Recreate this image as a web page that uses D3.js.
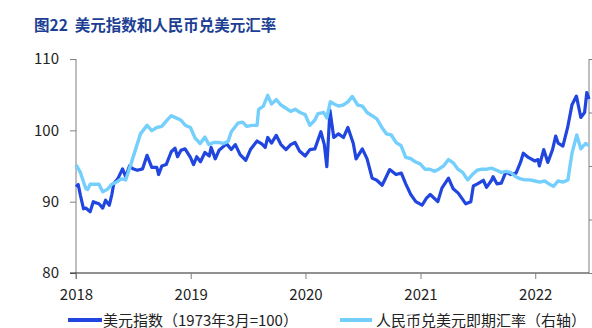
<!DOCTYPE html>
<html><head><meta charset="utf-8">
<script src="https://cdn.jsdelivr.net/npm/d3@7/dist/d3.min.js"></script>
<style>
html,body{margin:0;padding:0;background:#fff;overflow:hidden;}
svg{display:block;}
text{font-family:"Noto Sans CJK SC","Noto Sans",sans-serif;}
</style></head>
<body>
<svg id="c" width="592" height="328"></svg>
<script>
// ---------- DATA ----------
const titleText = "图22  美元指数和人民币兑美元汇率";
const seriesNames = ["美元指数（1973年3月=100）", "人民币兑美元即期汇率（右轴）"];
const xTickYears = [2018, 2019, 2020, 2021, 2022];
const leftTicks = [80, 90, 100, 110];
const rightTicks = [5.5, 6.0, 6.5, 7.0, 7.5];

// 美元指数
const dxyDates = [
"2018-01-01","2018-01-08","2018-01-15","2018-01-25","2018-02-01","2018-02-15","2018-02-25","2018-03-01","2018-03-15","2018-03-27",
"2018-04-05","2018-04-17","2018-04-25","2018-05-01","2018-05-15","2018-05-29","2018-06-08","2018-06-20","2018-07-01","2018-07-15",
"2018-08-01","2018-08-15","2018-08-30","2018-09-15","2018-09-21","2018-10-01","2018-10-15","2018-10-31","2018-11-12","2018-11-20",
"2018-12-01","2018-12-14","2018-12-31",
"2019-01-10","2019-01-20","2019-02-01","2019-02-15","2019-03-01","2019-03-07","2019-03-20","2019-04-01","2019-04-25","2019-05-10",
"2019-05-23","2019-06-07","2019-06-25","2019-07-10","2019-07-31","2019-08-15","2019-08-26","2019-09-03","2019-09-15","2019-09-30",
"2019-10-15","2019-10-31","2019-11-15","2019-11-29","2019-12-13","2019-12-31",
"2020-01-15","2020-01-31","2020-02-19","2020-03-01","2020-03-09","2020-03-19","2020-03-31","2020-04-15","2020-05-01","2020-05-15",
"2020-06-01","2020-06-10","2020-06-30","2020-07-15","2020-07-31","2020-08-15","2020-09-01","2020-09-25","2020-10-15","2020-11-01",
"2020-11-15","2020-12-01","2020-12-17",
"2021-01-06","2021-01-20","2021-02-01","2021-02-25","2021-03-10","2021-03-31","2021-04-15","2021-05-01","2021-05-25","2021-06-10",
"2021-06-18","2021-07-01","2021-07-20","2021-07-30","2021-08-15","2021-08-20","2021-09-01","2021-09-15","2021-09-30","2021-10-15",
"2021-11-01","2021-11-15","2021-11-24","2021-12-10","2021-12-31",
"2022-01-10","2022-01-14","2022-01-28","2022-02-10","2022-02-25","2022-03-07","2022-03-15","2022-03-30","2022-04-14","2022-04-28",
"2022-05-12","2022-05-26","2022-06-07","2022-06-14","2022-06-21"];
const dxyValues = [
92.1,92.4,90.9,89.0,89.1,88.6,90.0,89.9,89.7,89.1,
90.2,89.5,91.0,92.5,93.3,94.6,93.5,95.0,94.6,94.4,
94.6,96.5,94.8,94.8,93.8,95.0,95.2,97.0,97.5,96.3,
97.2,97.4,96.2,
95.2,96.3,95.6,96.9,96.4,97.6,96.0,97.2,98.1,97.3,
98.0,96.6,95.8,97.3,98.5,98.1,97.6,99.0,98.2,99.3,
98.0,97.3,98.0,98.3,97.1,96.4,
97.3,97.4,99.8,98.0,94.9,102.8,99.0,99.5,99.0,100.4,
98.2,96.0,97.4,96.0,93.3,93.0,92.3,94.5,93.8,94.0,
92.5,91.0,90.0,
89.5,90.5,91.0,90.0,91.9,93.3,91.8,91.2,89.7,90.0,
92.2,92.5,93.0,92.0,93.0,93.5,92.5,92.6,94.2,93.8,
94.0,95.5,96.8,96.2,95.7,
95.9,95.0,97.3,95.5,97.3,99.2,98.2,97.8,100.4,103.6,
104.8,101.8,102.5,105.3,104.4];

// 人民币兑美元即期汇率
const cnyDates = [
"2018-01-01","2018-01-15","2018-02-01","2018-02-07","2018-02-15","2018-03-01","2018-03-15","2018-03-27","2018-04-10","2018-04-25",
"2018-05-10","2018-05-25","2018-06-08","2018-06-25","2018-07-10","2018-07-25","2018-08-15","2018-08-30","2018-09-15","2018-10-01",
"2018-10-15","2018-10-31","2018-11-15","2018-11-30","2018-12-15","2018-12-31",
"2019-01-15","2019-01-31","2019-02-15","2019-02-28","2019-03-15","2019-03-31","2019-04-15","2019-04-30","2019-05-10","2019-05-31",
"2019-06-15","2019-06-28","2019-07-15","2019-07-31","2019-08-05","2019-08-20","2019-09-03","2019-09-15","2019-09-30","2019-10-15",
"2019-10-31","2019-11-15","2019-11-29","2019-12-15","2019-12-31",
"2020-01-15","2020-01-31","2020-02-10","2020-02-28","2020-03-09","2020-03-20","2020-04-01","2020-04-15","2020-04-30","2020-05-15",
"2020-05-29","2020-06-15","2020-06-30","2020-07-15","2020-07-31","2020-08-15","2020-08-31","2020-09-15","2020-09-30","2020-10-15",
"2020-10-31","2020-11-15","2020-11-30","2020-12-15","2020-12-31",
"2021-01-15","2021-01-31","2021-02-15","2021-02-28","2021-03-15","2021-03-31","2021-04-15","2021-04-30","2021-05-15","2021-05-31",
"2021-06-15","2021-06-30","2021-07-15","2021-07-31","2021-08-15","2021-08-31","2021-09-15","2021-09-30","2021-10-15","2021-10-31",
"2021-11-15","2021-11-30","2021-12-15","2021-12-31",
"2022-01-15","2022-01-31","2022-02-15","2022-02-28","2022-03-15","2022-03-31","2022-04-15","2022-04-22","2022-04-28","2022-05-13",
"2022-05-26","2022-06-01","2022-06-10","2022-06-21"];
const cnyValues = [
6.51,6.44,6.29,6.28,6.33,6.33,6.33,6.26,6.28,6.33,
6.35,6.38,6.37,6.52,6.66,6.80,6.88,6.83,6.86,6.87,
6.92,6.97,6.95,6.93,6.88,6.86,
6.76,6.71,6.77,6.70,6.72,6.72,6.71,6.73,6.82,6.90,
6.91,6.87,6.88,6.88,7.03,7.06,7.16,7.08,7.12,7.07,
7.04,7.01,7.03,7.00,6.98,
6.88,6.93,6.99,7.00,6.95,7.10,7.08,7.06,7.07,7.10,
7.15,7.07,7.06,7.00,6.97,6.94,6.86,6.80,6.79,6.72,
6.69,6.58,6.57,6.54,6.52,
6.47,6.47,6.45,6.47,6.50,6.56,6.53,6.47,6.44,6.37,
6.42,6.46,6.47,6.47,6.48,6.46,6.44,6.45,6.44,6.40,
6.38,6.37,6.37,6.36,
6.35,6.36,6.33,6.31,6.36,6.35,6.37,6.51,6.62,6.79,
6.66,6.68,6.71,6.69];

// ---------- CHART ----------
const svg = d3.select("#c");
const parse = d3.timeParse("%Y-%m-%d");
const mLeft = 76, mRight = 589, mTop = 59, mBottom = 273;

const x = d3.scaleTime().domain([parse("2018-01-01"), parse("2022-06-21")]).range([mLeft, mRight]);
const yL = d3.scaleLinear().domain([80, 110]).range([mBottom, mTop]);
const yR = d3.scaleLinear().domain([5.5, 7.5]).range([mBottom, mTop]);

svg.append("text").attr("x", 34).attr("y", 31)
  .attr("font-size", 15.5).attr("font-weight", "bold").attr("fill", "#1c3f94")
  .style("white-space", "pre")
  .text(titleText);

// left axis
const gL = svg.append("g").attr("transform", `translate(${mLeft},0)`)
  .call(d3.axisLeft(yL).tickValues(leftTicks).tickSize(6).tickPadding(11).tickFormat(d3.format("d")));
gL.select(".domain").attr("stroke", "#7f7f7f").attr("d", `M0,${mTop}V${mBottom + 6}`);
gL.selectAll(".tick line").attr("stroke", "#7f7f7f");
gL.selectAll(".tick text").attr("font-size", 15).attr("fill", "#222").attr("font-family", "Noto Sans CJK SC");

// right axis (its labels lie beyond the visible frame in the reference)
const gR = svg.append("g").attr("transform", `translate(${mRight},0)`)
  .call(d3.axisRight(yR).tickValues(rightTicks).tickSize(6).tickFormat(""));
gR.select(".domain").attr("stroke", "#7f7f7f").attr("d", `M0,${mTop}V${mBottom}`);
gR.selectAll(".tick line").attr("stroke", "#7f7f7f");

// bottom axis
const xTicks = xTickYears.map(yv => new Date(yv, 0, 1));
const gB = svg.append("g").attr("transform", `translate(0,${mBottom})`)
  .call(d3.axisBottom(x).tickValues(xTicks).tickSize(6).tickPadding(10).tickFormat(d3.timeFormat("%Y")));
gB.select(".domain").attr("stroke", "#222").attr("d", `M${mLeft - 6},0H${mRight}`);
gB.selectAll(".tick line").attr("stroke", "#7f7f7f");
gB.selectAll(".tick text").attr("font-size", 15).attr("fill", "#222").attr("font-family", "Noto Sans CJK SC");

const dxy = dxyDates.map((d, i) => ({ d: parse(d), v: dxyValues[i] }));
const cny = cnyDates.map((d, i) => ({ d: parse(d), v: cnyValues[i] }));

const colDark = "#2146e0", colLight = "#74cffd";

svg.append("path").datum(dxy)
  .attr("fill", "none").attr("stroke", colDark).attr("stroke-width", 3.2).attr("stroke-linejoin", "round")
  .attr("d", d3.line().x(p => x(p.d)).y(p => yL(p.v)));
svg.append("path").datum(cny)
  .attr("fill", "none").attr("stroke", colLight).attr("stroke-width", 3.4).attr("stroke-linejoin", "round")
  .attr("d", d3.line().x(p => x(p.d)).y(p => yR(p.v)));

// legend
const legY = 320;
const leg = [
  { x0: 68, x1: 102, tx: 103, col: colDark, name: seriesNames[0] },
  { x0: 340, x1: 372, tx: 376, col: colLight, name: seriesNames[1] }
];
leg.forEach(l => {
  svg.append("line").attr("x1", l.x0).attr("x2", l.x1).attr("y1", legY).attr("y2", legY)
    .attr("stroke", l.col).attr("stroke-width", 4);
  svg.append("text").attr("x", l.tx).attr("y", 325.5).attr("font-size", 15).attr("fill", "#222").text(l.name);
});
</script>
</body></html>
